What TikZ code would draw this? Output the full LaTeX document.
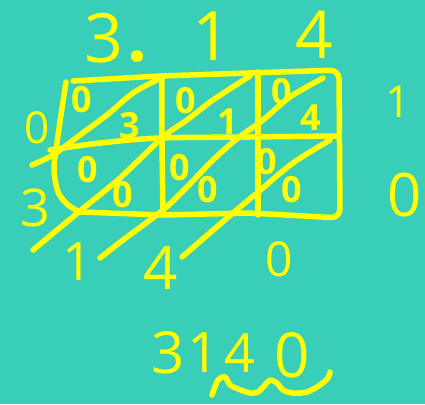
\documentclass[tikz,border=0pt]{standalone}
\usepackage{fontspec}
\setmainfont{Open Sans}
\definecolor{bg}{RGB}{56,206,184}
\definecolor{ink}{RGB}{255,255,0}
\tikzset{
  pen/.style={draw=ink, line width=5.5pt, line cap=round, line join=round},
  dig/.style={text=ink, inner sep=0pt, font=\fontsize{#1}{#1}\selectfont},
  cdig/.style={text=ink, inner sep=0pt, font=\fontsize{#1}{#1}\selectfont\bfseries},
}
\begin{document}
\begin{tikzpicture}[x=1pt,y=-1pt]
\fill[bg] (0,0) rectangle (425,404);
\useasboundingbox (0,0) rectangle (425,404);

% top factor
\node[dig=68] (m3) at (104,38) {3};
\node[cdig=70, anchor=base] (mdot) at (137,62) {.};
\node[dig=68] (m1) at (212,36) {1};
\node[dig=66] (m4) at (314,35) {4};

% grid outline
\draw[pen, rounded corners=9pt] (73,81) -- (160,76) -- (339,70) -- (340,218) -- (250,213) -- (163,215) -- (80,212);
\draw[pen] plot[smooth] coordinates {(66,82) (61,115) (56,150) (54,170) (58,192) (68,205) (80,212)};
\draw[pen] plot[smooth] coordinates {(162,77) (162,140) (163,215)};
\draw[pen] plot[smooth] coordinates {(258,72) (258,140) (258,215)};
\draw[pen] plot[smooth] coordinates {(50,150) (100,143) (160,138) (250,137) (336,136)};

% diagonals
\draw[pen] plot[smooth] coordinates {(32,165) (53,155) (80,135) (107,115) (133,93) (157,80)};
\draw[pen] plot[smooth] coordinates {(33,250) (80,211) (120,178) (163,137) (187,120) (213,100) (250,76)};
\draw[pen] plot[smooth] coordinates {(100,258) (123,240) (163,210) (187,187) (213,160) (238,138) (263,120) (290,97) (323,78)};
\draw[pen] plot[smooth] coordinates {(182,257) (233,213) (257,193) (293,163) (330,140)};

% cell digits
\node[cdig=36] (c1a) at (82,100) {0};
\node[cdig=36] (c1b) at (130,126) {3};
\node[cdig=36] (c2a) at (186,101) {0};
\node[cdig=36] (c2b) at (228,122) {1};
\node[cdig=36] (c3a) at (282,92) {0};
\node[cdig=36] (c3b) at (311,118) {4};
\node[cdig=36] (c4a) at (88,170) {0};
\node[cdig=36] (c4b) at (123,195) {0};
\node[cdig=36] (c5a) at (180,168) {0};
\node[cdig=36] (c5b) at (208,190) {0};
\node[cdig=36] (c6a) at (267,162) {0};
\node[cdig=36] (c6b) at (292,190) {0};

% left factor
\node[dig=44] (l0) at (37,128) {0};
\node[dig=52] (l3) at (35,208) {3};

% right
\node[dig=44] (r1) at (398,102) {1};
\node[dig=60] (r0) at (405,195) {0};

% bottom result digits
\node[dig=53] (b1) at (78,262) {1};
\node[dig=60] (b4) at (161,268) {4};
\node[dig=48] (b0) at (279,259) {0};

% answer
\node[dig=58] (a3) at (168,353) {3};
\node[dig=56] (a1) at (204,353) {1};
\node[dig=54] (a4) at (240,353) {4};
\node[dig=62] (a0) at (292,355) {0};
\draw[pen] plot[smooth] coordinates {(212,395) (218,380) (225,377) (230,385) (238,389) (250,393) (258,392) (265,385) (270,380) (277,383) (283,390) (293,393) (307,392) (320,385) (328,378) (330,372)};
\end{tikzpicture}
\end{document}
